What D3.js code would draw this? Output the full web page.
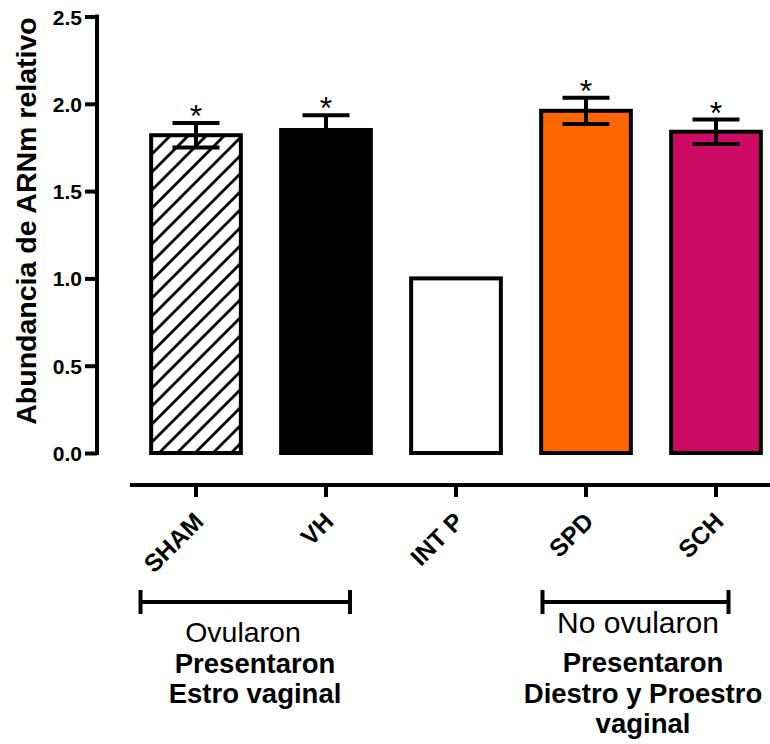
<!DOCTYPE html>
<html>
<head>
<meta charset="utf-8">
<script src="https://cdn.jsdelivr.net/npm/d3@7"></script>
<style>
  html, body { margin: 0; padding: 0; background: #fff; }
  svg { display: block; font-family: "Liberation Sans", Arial, sans-serif; }
</style>
</head>
<body>
<svg id="chart" width="770" height="744"></svg>
<script>
// Relative mRNA abundance per group (mean ± SEM)
const categories = ["SHAM", "VH", "INT P", "SPD", "SCH"];
const means      = [1.82, 1.85, 1.00, 1.96, 1.84];
const sems       = [0.07, 0.085, 0, 0.075, 0.07];
const significant = [true, true, false, true, true];
const fills      = ["url(#hatch)", "#000000", "#ffffff", "#FF6600", "#CD0A64"];
const yTicks     = [0, 0.5, 1.0, 1.5, 2.0, 2.5];

// Group brackets under the x axis
const groups = [
  { from: "SHAM", to: "VH",  title: "Ovularon",    lines: ["Presentaron", "Estro vaginal"] },
  { from: "SPD",  to: "SCH", title: "No ovularon", lines: ["Presentaron", "Diestro y Proestro", "vaginal"] }
];

// Layout of the bracket ends and caption blocks
const bracketLayout = [
  { left: -55.5, right: 24,   titleX: 243, titleY: 642, titleSize: 28.5, textX: 255, textY: 673, lead: 29.5 },
  { left: -43.5, right: 12.5, titleX: 638, titleY: 633, titleSize: 30,   textX: 643, textY: 672, lead: 30.5 }
];

const FONT = "'Liberation Sans', Arial, sans-serif";
const svg = d3.select("#chart");

const defs = svg.append("defs");
const pat = defs.append("pattern")
  .attr("id", "hatch")
  .attr("patternUnits", "userSpaceOnUse")
  .attr("width", 18).attr("height", 18);
pat.append("rect").attr("width", 18).attr("height", 18).attr("fill", "#fff");
pat.append("path")
  .attr("d", "M-4,4 L4,-4 M0,18 L18,0 M14,22 L22,14")
  .attr("stroke", "#000").attr("stroke-width", 2.8);

const y = d3.scaleLinear().domain([0, 2.5]).range([453, 16.5]);
const x = d3.scaleBand().domain(categories).range([131, 781]).paddingInner(0.31).paddingOuter(0.155);

// Y axis
const yAxis = svg.append("g").attr("transform", "translate(97,0)")
  .call(d3.axisLeft(y).tickValues(yTicks).tickFormat(d3.format(".1f")).tickSize(12).tickSizeOuter(0));
yAxis.select(".domain").attr("stroke", "#000").attr("stroke-width", 4)
  .attr("d", `M0,${y(2.5) - 2}V${y(0) + 2}`);
yAxis.selectAll(".tick line").attr("stroke", "#000").attr("stroke-width", 4);
yAxis.selectAll(".tick text")
  .attr("font-size", 21).attr("font-weight", "bold").attr("fill", "#000")
  .attr("x", -15).attr("dy", "0.36em")
  .attr("font-family", FONT);

// Y axis title
svg.append("text")
  .attr("transform", `translate(36,221) rotate(-90)`)
  .attr("text-anchor", "middle")
  .attr("font-size", 28.5).attr("font-weight", "bold")
  .text("Abundancia de ARNm relativo");

// X axis, drawn offset below the bars
const xAxis = svg.append("g").attr("transform", "translate(0,485)")
  .call(d3.axisBottom(x).tickSize(12).tickSizeOuter(0));
xAxis.select(".domain").attr("stroke", "#000").attr("stroke-width", 4)
  .attr("d", "M130,0H770");
xAxis.selectAll(".tick line").attr("stroke", "#000").attr("stroke-width", 4);
xAxis.selectAll(".tick text")
  .attr("font-size", 24.5).attr("font-weight", "bold").attr("fill", "#000")
  .attr("font-family", FONT)
  .attr("text-anchor", "end")
  .attr("transform", "translate(9,38) rotate(-45)")
  .attr("y", 0).attr("dy", 0);

const data = categories.map((c, i) => ({ c, m: means[i], s: sems[i], sig: significant[i], fill: fills[i] }));

// Bars
svg.append("g").selectAll("rect").data(data).join("rect")
  .attr("x", d => x(d.c))
  .attr("y", d => y(d.m))
  .attr("width", x.bandwidth())
  .attr("height", d => y(0) - y(d.m))
  .attr("fill", d => d.fill)
  .attr("stroke", "#000").attr("stroke-width", 4);

// Error bars
const capW = 47;
const cx = d => x(d.c) + x.bandwidth() / 2;
const eb = svg.append("g").selectAll("g").data(data.filter(d => d.s > 0)).join("g")
  .attr("stroke", "#000").attr("stroke-width", 4);
eb.append("line")
  .attr("x1", cx).attr("x2", cx)
  .attr("y1", d => y(d.m + d.s)).attr("y2", d => y(d.m - d.s));
eb.append("line")
  .attr("x1", d => cx(d) - capW / 2).attr("x2", d => cx(d) + capW / 2)
  .attr("y1", d => y(d.m + d.s)).attr("y2", d => y(d.m + d.s));
eb.append("line")
  .attr("x1", d => cx(d) - capW / 2).attr("x2", d => cx(d) + capW / 2)
  .attr("y1", d => y(d.m - d.s)).attr("y2", d => y(d.m - d.s));

// Significance marks
svg.append("g").selectAll("text").data(data.filter(d => d.sig)).join("text")
  .attr("x", cx)
  .attr("y", d => y(d.m + d.s) + 4)
  .attr("text-anchor", "middle")
  .attr("font-size", 32)
  .text("*");

// Group brackets and captions
const bracketY = 602;
groups.forEach((g, gi) => {
  const L = bracketLayout[gi];
  const x0 = x(g.from) + x.bandwidth() / 2 + L.left;
  const x1 = x(g.to) + x.bandwidth() / 2 + L.right;
  const b = svg.append("g").attr("stroke", "#000").attr("stroke-width", 4);
  b.append("line").attr("x1", x0).attr("x2", x1).attr("y1", bracketY).attr("y2", bracketY);
  b.append("line").attr("x1", x0).attr("x2", x0).attr("y1", bracketY - 12).attr("y2", bracketY + 12);
  b.append("line").attr("x1", x1).attr("x2", x1).attr("y1", bracketY - 12).attr("y2", bracketY + 12);

  svg.append("text").attr("x", L.titleX).attr("y", L.titleY).attr("text-anchor", "middle")
    .attr("font-size", L.titleSize).text(g.title);
  g.lines.forEach((t, i) => svg.append("text")
    .attr("x", L.textX).attr("y", L.textY + i * L.lead).attr("text-anchor", "middle")
    .attr("font-size", 27.5).attr("font-weight", "bold").text(t));
});
</script>
</body>
</html>
